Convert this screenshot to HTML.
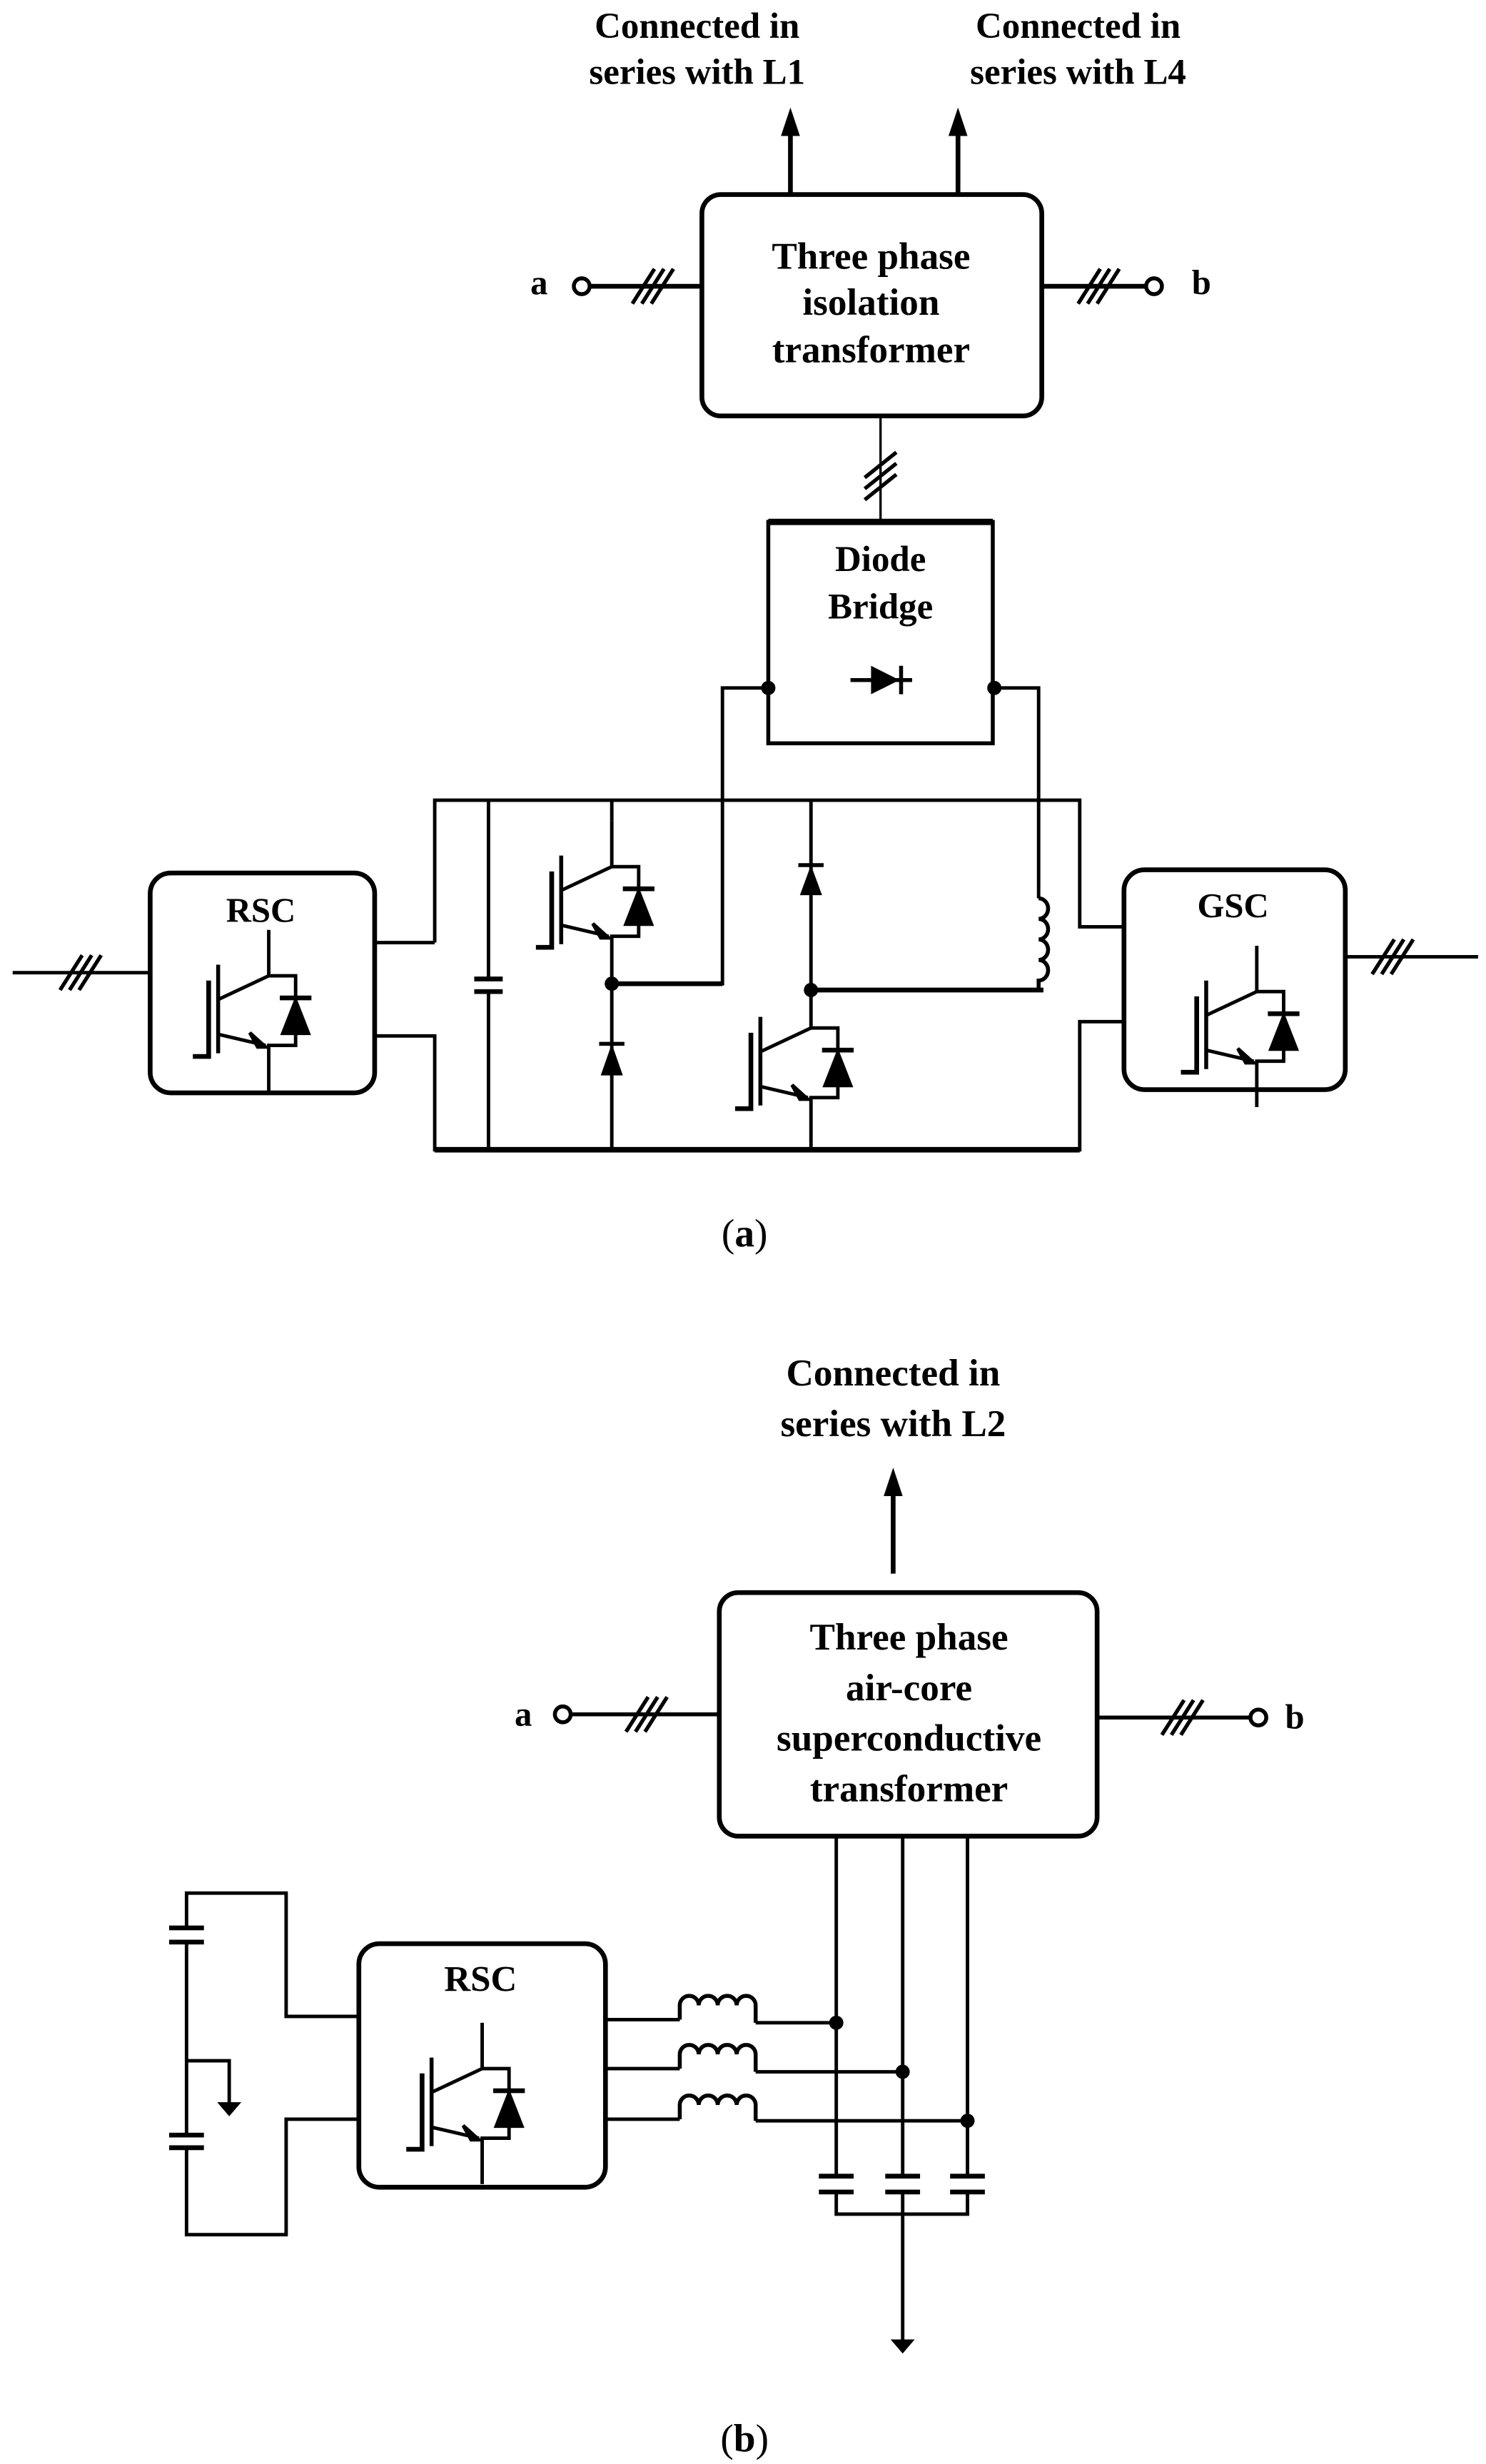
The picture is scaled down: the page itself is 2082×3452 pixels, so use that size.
<!DOCTYPE html>
<html><head><meta charset="utf-8"><style>
html,body{margin:0;padding:0;background:#fff;}
svg{display:block;}
text{font-family:"Liberation Serif",serif;font-weight:bold;fill:#000;}
</style></head><body>
<svg width="2082" height="3452" viewBox="0 0 940 1558" preserveAspectRatio="none" xmlns="http://www.w3.org/2000/svg">
<defs>
<g id="igbt" fill="none" stroke="#000" stroke-width="2.2">
  <path d="M0,-29V0H17V44H0V73"/>
  <path d="M-32,-7V49" stroke-width="2.5"/>
  <path d="M-38,3V51H-48" stroke-width="3"/>
  <path d="M-32,15L0,0M-32,37L-2,44"/>
  <path d="M-2,45L-12,36L-7,45Z" fill="#000"/>
  <path d="M7,14H27" stroke-width="3"/>
  <path d="M17,14L8,37H26Z" fill="#000" stroke-width="1"/>
</g>
<g id="hatch" stroke="#000" stroke-width="2.4">
  <path d="M-12,11L2,-11M-6,11L8,-11M0,11L14,-11"/>
</g>
<g id="vhatch" stroke="#000" stroke-width="2.4">
  <path d="M-10,0L10,-16M-10,7L10,-9M-10,14L10,-2"/>
</g>
</defs>

<!-- (a) top -->
<text x="441" y="24" font-size="23" text-anchor="middle">Connected in</text>
<text x="441" y="53" font-size="23" text-anchor="middle">series with L1</text>
<text x="682" y="24" font-size="23" text-anchor="middle">Connected in</text>
<text x="682" y="53" font-size="23" text-anchor="middle">series with L4</text>
<g stroke="#000" stroke-width="3" fill="none">
  <path d="M500,122V84M606,122V84"/>
</g>
<path d="M500,68L494,86H506Z M606,68L600,86H612Z" fill="#000"/>
<rect x="444" y="123" width="215" height="140" rx="12" fill="none" stroke="#000" stroke-width="3"/>
<text x="551" y="170" font-size="24" text-anchor="middle">Three phase</text>
<text x="551" y="199" font-size="24" text-anchor="middle">isolation</text>
<text x="551" y="229" font-size="24" text-anchor="middle">transformer</text>
<text x="341" y="186" font-size="22" text-anchor="middle">a</text>
<circle cx="368" cy="181" r="5" fill="#fff" stroke="#000" stroke-width="2.5"/>
<path d="M373,181H444M659,181H725" stroke="#000" stroke-width="3"/>
<use href="#hatch" x="412" y="181"/>
<use href="#hatch" x="694" y="181"/>
<circle cx="730" cy="181" r="5" fill="#fff" stroke="#000" stroke-width="2.5"/>
<text x="760" y="186" font-size="22" text-anchor="middle">b</text>
<path d="M557,263V330" stroke="#000" stroke-width="1.5"/>
<use href="#vhatch" x="557" y="302"/>
<!-- diode bridge -->
<rect x="486" y="330" width="142" height="140" fill="none" stroke="#000" stroke-width="2.5"/>
<path d="M486,330H628" stroke="#000" stroke-width="4"/>
<text x="557" y="361" font-size="23" text-anchor="middle">Diode</text>
<text x="557" y="391" font-size="23" text-anchor="middle">Bridge</text>
<path d="M538,430H577M570,421V439" stroke="#000" stroke-width="2.5"/>
<path d="M569,430L551,421V439Z" fill="#000"/>
<circle cx="486" cy="435" r="4.5" fill="#000"/>
<circle cx="629" cy="435" r="4.5" fill="#000"/>
<!-- wires -->
<g fill="none" stroke="#000" stroke-width="2.2">
  <path d="M486,435H457V622H387"/>
  <path d="M629,435H657V568"/>
  <path d="M275,596V506H683V586H711"/>
  <path d="M237,596H275"/>
  <path d="M237,655H275V727H683V646H711"/>
  <path d="M309,506V619M309,627V727"/>
  <path d="M387,506V519M387,622V727"/>
  <path d="M513,506V626H660"/>
  <path d="M513,723V727"/>
  <path d="M8,615H95M851,605H935"/>
</g>
<path d="M275,727H683" stroke="#000" stroke-width="3.5"/>
<path d="M387,622H457" stroke="#000" stroke-width="3"/>
<path d="M513,626H660" stroke="#000" stroke-width="3"/>
<path d="M300,619H318M300,627H318" stroke="#000" stroke-width="3"/>
<!-- inductor -->
<path d="M657,568 a6,6.5 0 0 1 0,13 a6,6.5 0 0 1 0,13 a6,6.5 0 0 1 0,13 a6,6.5 0 0 1 0,13 V626" fill="none" stroke="#000" stroke-width="2.5"/>
<use href="#hatch" x="50" y="615"/>
<use href="#hatch" x="880" y="605"/>
<!-- diodes in legs -->
<path d="M379,660H395M505,547H521" stroke="#000" stroke-width="2.5"/>
<path d="M387,660L380,680H394Z M513,547L506,566H520Z" fill="#000"/>
<circle cx="387" cy="622" r="4.5" fill="#000"/>
<circle cx="513" cy="626" r="4.5" fill="#000"/>
<!-- converter boxes -->
<rect x="95" y="552" width="142" height="139" rx="13" fill="none" stroke="#000" stroke-width="3"/>
<text x="165" y="583" font-size="22" text-anchor="middle">RSC</text>
<use href="#igbt" x="170" y="617"/>
<rect x="711" y="550" width="140" height="139" rx="13" fill="none" stroke="#000" stroke-width="3"/>
<text x="780" y="580" font-size="22" text-anchor="middle">GSC</text>
<use href="#igbt" x="795" y="627"/>
<use href="#igbt" x="387" y="548"/>
<use href="#igbt" x="513" y="650"/>
<text x="471" y="788" font-size="25" text-anchor="middle" style="font-weight:normal">(<tspan font-weight="bold">a</tspan>)</text>

<!-- (b) -->
<text x="565" y="876" font-size="24" text-anchor="middle">Connected in</text>
<text x="565" y="908" font-size="24" text-anchor="middle">series with L2</text>
<path d="M565,995V945" stroke="#000" stroke-width="3"/>
<path d="M565,928L559,946H571Z" fill="#000"/>
<rect x="455" y="1007" width="239" height="154" rx="12" fill="none" stroke="#000" stroke-width="3"/>
<text x="575" y="1043" font-size="24" text-anchor="middle">Three phase</text>
<text x="575" y="1075" font-size="24" text-anchor="middle">air-core</text>
<text x="575" y="1107" font-size="24" text-anchor="middle">superconductive</text>
<text x="575" y="1139" font-size="24" text-anchor="middle">transformer</text>
<text x="331" y="1091" font-size="22" text-anchor="middle">a</text>
<circle cx="356" cy="1084" r="5" fill="#fff" stroke="#000" stroke-width="2.5"/>
<path d="M361,1084H455M694,1086H791" stroke="#000" stroke-width="2.5"/>
<use href="#hatch" x="408" y="1084"/>
<use href="#hatch" x="747" y="1086"/>
<circle cx="796" cy="1086" r="5" fill="#fff" stroke="#000" stroke-width="2.5"/>
<text x="819" y="1093" font-size="22" text-anchor="middle">b</text>
<g fill="none" stroke="#000" stroke-width="2.2">
  <path d="M529,1161V1376M529,1386V1400H612V1386M612,1376V1161"/>
  <path d="M571,1161V1376M571,1386V1480"/>
  <path d="M383,1277H430M478,1279H529"/>
  <path d="M383,1308H430M478,1310H571"/>
  <path d="M383,1340H430M478,1341H612"/>
  <path d="M227,1275H181V1197H118V1219M118,1228V1350M118,1358V1413H181V1340H227"/>
  <path d="M118,1303H145V1330"/>
</g>
<g fill="none" stroke="#000" stroke-width="2.5">
  <path d="M430,1277V1268 a6,6 0 0 1 12,0 a6,6 0 0 1 12,0 a6,6 0 0 1 12,0 a6,6 0 0 1 12,0 V1279"/>
  <path d="M430,1308V1299 a6,6 0 0 1 12,0 a6,6 0 0 1 12,0 a6,6 0 0 1 12,0 a6,6 0 0 1 12,0 V1310"/>
  <path d="M430,1340V1331 a6,6 0 0 1 12,0 a6,6 0 0 1 12,0 a6,6 0 0 1 12,0 a6,6 0 0 1 12,0 V1341"/>
</g>
<g stroke="#000" stroke-width="3">
  <path d="M518,1376H540M518,1386H540M560,1376H582M560,1386H582M601,1376H623M601,1386H623"/>
  <path d="M107,1219H129M107,1228H129M107,1350H129M107,1358H129"/>
</g>
<path d="M139,1330H151L145,1337Z M565,1480H577L571,1487Z" fill="#000" stroke="#000" stroke-width="1.5"/>
<circle cx="529" cy="1279" r="4.5" fill="#000"/>
<circle cx="571" cy="1310" r="4.5" fill="#000"/>
<circle cx="612" cy="1341" r="4.5" fill="#000"/>
<rect x="227" y="1229" width="156" height="154" rx="13" fill="none" stroke="#000" stroke-width="3"/>
<text x="304" y="1259" font-size="23" text-anchor="middle">RSC</text>
<use href="#igbt" x="305" y="1308"/>
<text x="471" y="1550" font-size="25" text-anchor="middle" style="font-weight:normal">(<tspan font-weight="bold">b</tspan>)</text>
</svg>
</body></html>
